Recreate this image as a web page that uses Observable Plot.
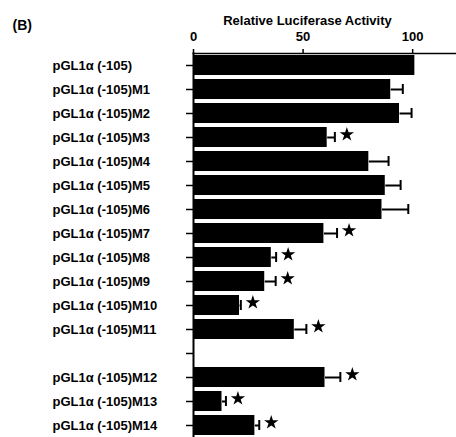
<!DOCTYPE html>
<html>
<head>
<meta charset="utf-8">
<script src="https://cdn.jsdelivr.net/npm/d3@7"></script>
<script src="https://cdn.jsdelivr.net/npm/@observablehq/plot@0.6"></script>
<style>
  html, body { margin: 0; padding: 0; background: #fff; }
  svg { font-family: "Liberation Sans", Arial, sans-serif; font-weight: bold; }
</style>
</head>
<body>
<div id="chart"></div>
<script>
const constructs = [
  "pGL1α (-105)", "pGL1α (-105)M1", "pGL1α (-105)M2", "pGL1α (-105)M3",
  "pGL1α (-105)M4", "pGL1α (-105)M5", "pGL1α (-105)M6", "pGL1α (-105)M7",
  "pGL1α (-105)M8", "pGL1α (-105)M9", "pGL1α (-105)M10", "pGL1α (-105)M11",
  "", "pGL1α (-105)M12", "pGL1α (-105)M13", "pGL1α (-105)M14"
];
const activity = [101, 90, 94, 61, 80, 87.5, 86, 59.5, 35.5, 32.5, 21, 46, null, 60, 13, 28];
const errors   = [0, 5.5, 5.5, 3.5, 9, 7, 12, 6, 2.2, 5, 0.6, 5.5, null, 7, 1.8, 2];
const significant = [0, 0, 0, 1, 0, 0, 0, 1, 1, 1, 1, 1, 0, 1, 1, 1];
const xTicks = [0, 50, 100];
const xTitle = "Relative Luciferase Activity";
const panel = "(B)";

const rows = constructs
  .map((name, i) => ({name, value: activity[i], err: errors[i], sig: significant[i]}))
  .filter(d => d.value != null);
const errRows = rows.filter(d => d.err > 0);
const sigRows = rows.filter(d => d.sig);

const chart = Plot.plot({
  width: 456,
  height: 437,
  marginTop: 53,
  marginBottom: 0,
  marginLeft: 193,
  marginRight: 0,
  style: {fontFamily: "'Liberation Sans', Arial, sans-serif", fontWeight: "bold", background: "#fff"},
  x: {domain: [0, 120], axis: null},
  y: {domain: constructs, axis: null, paddingInner: 0.16, paddingOuter: 0.08},
  marks: [
    Plot.barX(rows, {x: "value", y: "name", fill: "black"}),
    Plot.link(errRows, {x1: "value", x2: d => d.value + d.err, y1: "name", y2: "name", stroke: "black", strokeWidth: 2}),
    Plot.tickX(errRows, {x: d => d.value + d.err, y: "name", stroke: "black", strokeWidth: 2, insetTop: 5, insetBottom: 5}),
    Plot.dot(sigRows, {x: d => d.value + d.err, y: "name", symbol: "star", r: 4.5, fill: "black", stroke: "none", dx: 12, dy: -3}),
    Plot.axisX({anchor: "top", ticks: xTicks, tickSize: 5, tickPadding: 8, fontSize: 13, fontWeight: "bold", label: null, strokeWidth: 1.5}),
    Plot.axisY({anchor: "left", tickSize: 7, tickPadding: 134, textAnchor: "start", fontSize: 13, fontWeight: "bold", label: null, strokeWidth: 1.5}),
    Plot.frame({anchor: "top", strokeWidth: 1.5}),
    Plot.frame({anchor: "left", strokeWidth: 2}),
    Plot.text([xTitle], {x: 52, frameAnchor: "top", dy: -38, fontSize: 13, fontWeight: "bold", letterSpacing: 0.5}),
    Plot.text([panel], {frameAnchor: "top-left", dx: -181, dy: -33, textAnchor: "start", fontSize: 14, fontWeight: "bold"})
  ]
});
document.getElementById("chart").appendChild(chart);
</script>
</body>
</html>
